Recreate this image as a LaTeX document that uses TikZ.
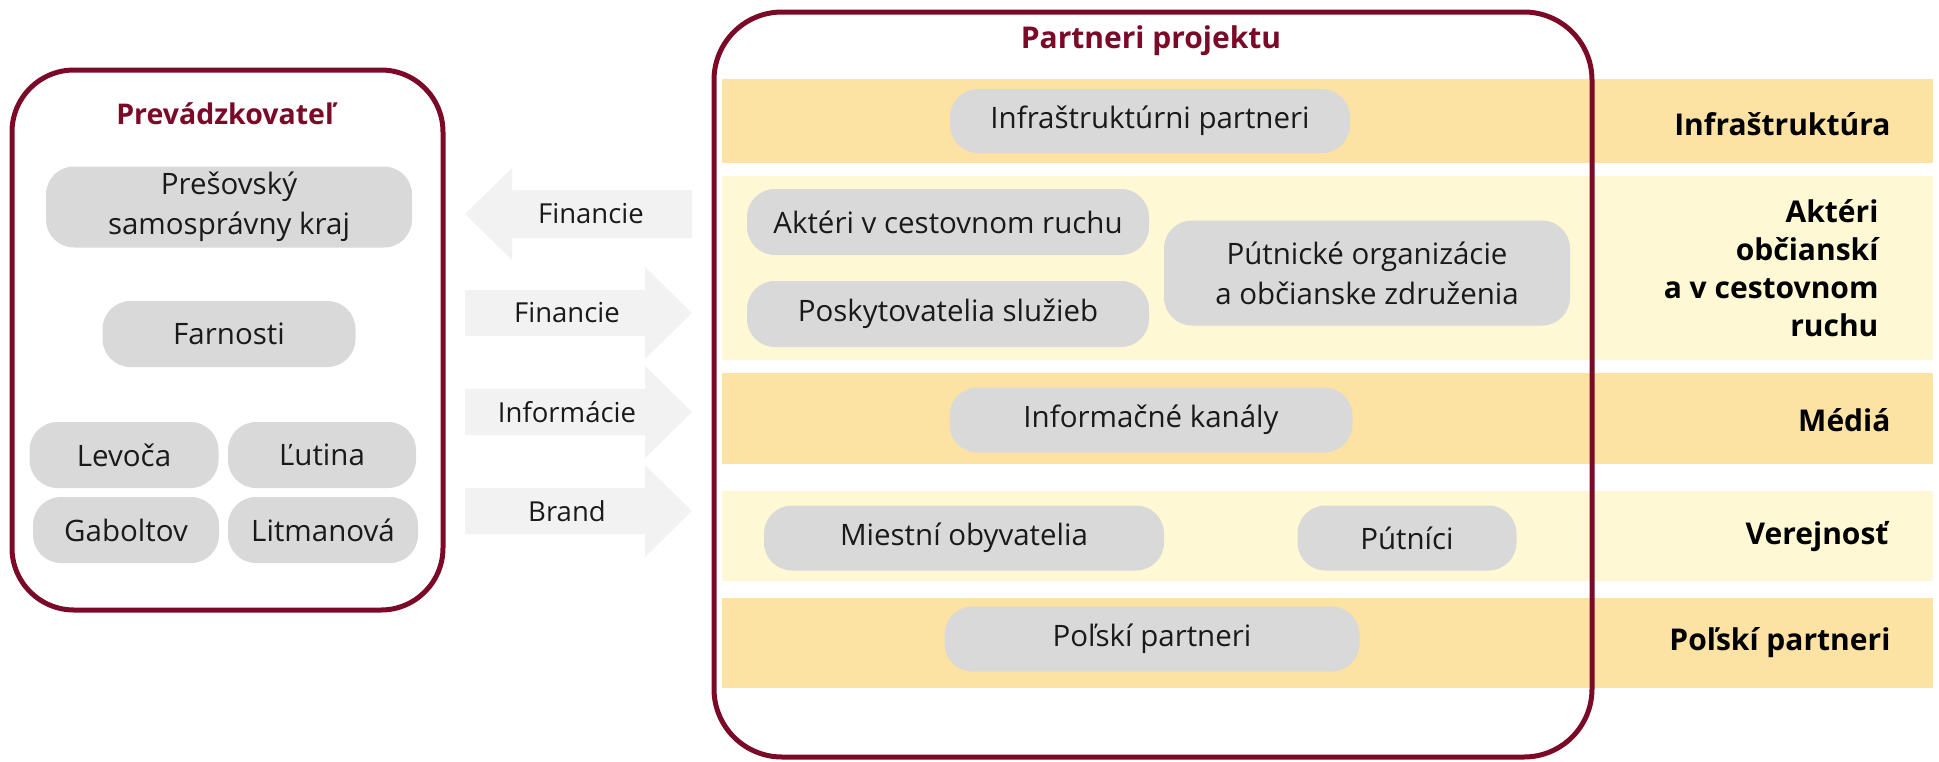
\documentclass[tikz,border=0pt]{standalone}
\usepackage{fontspec}
\setmainfont{Open Sans}
\definecolor{wine}{HTML}{7A0A28}
\definecolor{bandD}{HTML}{FDE3A3}
\definecolor{bandL}{HTML}{FEF8D4}
\definecolor{boxG}{HTML}{D9D9D9}
\definecolor{arrG}{HTML}{F2F2F2}
\definecolor{txt}{HTML}{1A1A1A}
\begin{document}
\begin{tikzpicture}[x=1pt,y=-1pt,
  frame/.style={draw=wine,line width=5pt,rounded corners=62pt},
  gbox/.style={fill=boxG,rounded corners=28pt,inner sep=0pt,text=txt,align=center,
    font=\fontsize{29.5}{40}\selectfont},
  ttl/.style={text=wine,font=\bfseries\fontsize{28.5}{33}\selectfont},
  blab/.style={anchor=east,align=right,text=black,font=\bfseries\fontsize{30}{38}\selectfont},
  alab/.style={text=txt,font=\fontsize{27.5}{32}\selectfont},
  arrfill/.style={fill=arrG}]
\useasboundingbox (0,0) rectangle (1939,761);
% bands
\fill[bandD] (722,79) rectangle (1933,163);
\fill[bandL] (722,176) rectangle (1933,360);
\fill[bandD] (722,373) rectangle (1933,464);
\fill[bandL] (722,491) rectangle (1933,581);
\fill[bandD] (722,598) rectangle (1933,688);
% frames
\draw[frame] (12,70) rectangle (443,610);
\draw[frame,rounded corners=68pt] (714,12) rectangle (1592,757);
% titles
\node[ttl] (tl) at (225,114) {Prevádzkovateľ};
\node[ttl,font=\bfseries\fontsize{30}{35}\selectfont] (tr) at (1151,41) {Partneri projektu};
% left boxes
\node[gbox,minimum width=366pt,minimum height=81pt] (pk) at (229,207) {Prešovský\\samosprávny kraj};
\node[gbox,minimum width=253pt,minimum height=66pt] (fa) at (229,334) {Farnosti};
\node[gbox,minimum width=189pt,minimum height=66pt] (le) at (124,455) {Levoča};
\node[gbox,minimum width=188pt,minimum height=66pt] (lu) at (322,455) {Ľutina};
\node[gbox,minimum width=186pt,minimum height=66pt] (ga) at (126,530) {Gaboltov};
\node[gbox,minimum width=190pt,minimum height=66pt] (li) at (323,530) {Litmanová};
% arrows
\fill[arrfill] (465,214) -- (512,168) -- (512,190) -- (692,190) -- (692,238) -- (512,238) -- (512,260) -- cycle;
\node[alab] (a1) at (591,214) {Financie};
\fill[arrfill] (465,290) -- (645,290) -- (645,267) -- (692,313) -- (645,359) -- (645,336) -- (465,336) -- cycle;
\node[alab] (a2) at (567,313) {Financie};
\fill[arrfill] (465,389) -- (645,389) -- (645,366) -- (692,412) -- (645,458) -- (645,435) -- (465,435) -- cycle;
\node[alab] (a3) at (567,412) {Informácie};
\fill[arrfill] (465,488) -- (645,488) -- (645,465) -- (692,511) -- (645,557) -- (645,534) -- (465,534) -- cycle;
\node[alab] (a4) at (567,511) {Brand};
% right boxes
\node[gbox,minimum width=400pt,minimum height=64pt] (ip) at (1150,121) {Infraštruktúrni partneri};
\node[gbox,minimum width=402pt,minimum height=66pt] (ac) at (948,222) {Aktéri v cestovnom ruchu};
\node[gbox,minimum width=402pt,minimum height=66pt] (ps) at (948,314) {Poskytovatelia služieb};
\node[gbox,minimum width=406pt,minimum height=105pt] (po) at (1367,273) {Pútnické organizácie\\a občianske združenia};
\node[gbox,minimum width=403pt,minimum height=65pt] (ik) at (1151,420) {Informačné kanály};
\node[gbox,minimum width=400pt,minimum height=65pt] (mo) at (964,538) {Miestní obyvatelia};
\node[gbox,minimum width=219pt,minimum height=65pt] (pu) at (1407,538) {Pútníci};
\node[gbox,minimum width=415pt,minimum height=65pt] (pp) at (1152,639) {Poľskí partneri};
% band labels
\node[blab] (b1) at (1894,124) {Infraštruktúra};
\node[blab] (b2) at (1882,268) {Aktéri\\občianskí\\a v cestovnom\\ruchu};
\node[blab] (b3) at (1894,420) {Médiá};
\node[blab] (b4) at (1892,537) {Verejnosť};
\node[blab] (b5) at (1894,643) {Poľskí partneri};
\end{tikzpicture}
\end{document}
